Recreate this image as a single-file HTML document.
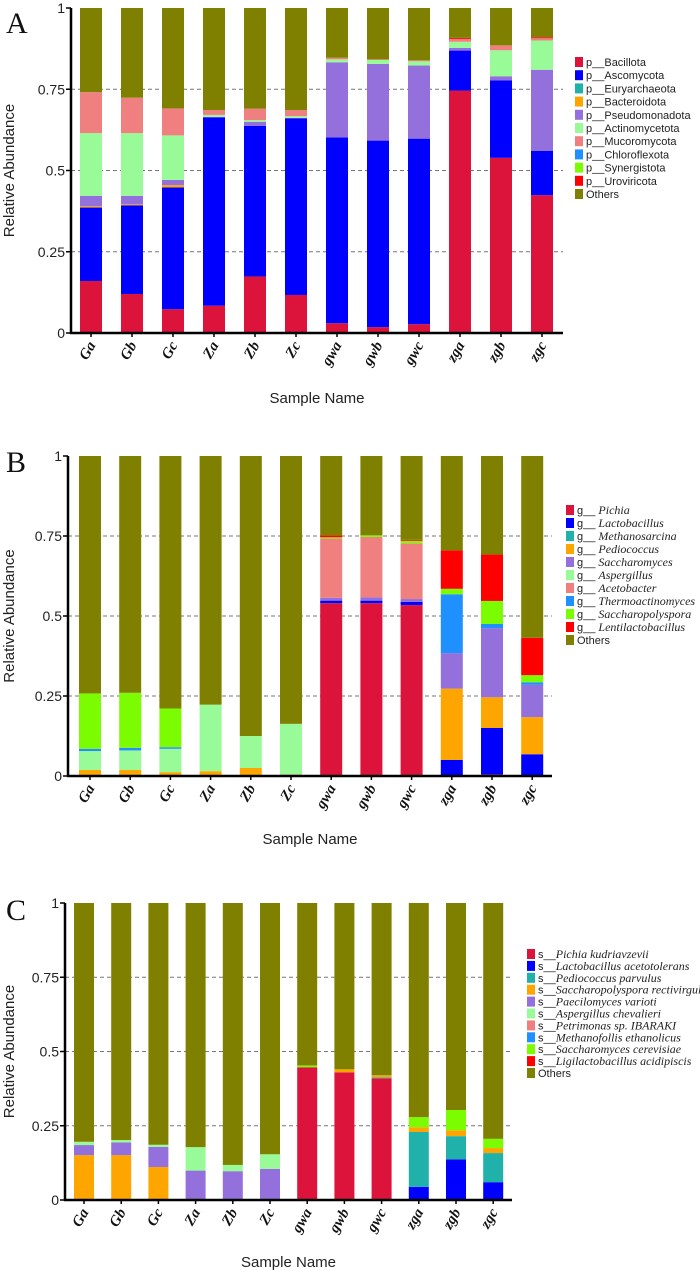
<!DOCTYPE html>
<html><head><meta charset="utf-8"><style>
body{margin:0;background:#fff;}
svg{display:block;}
.tick{font-family:"Liberation Sans",sans-serif;font-size:14px;fill:#222;}
.xl{font-family:"Liberation Serif",serif;font-size:15px;font-weight:bold;font-style:italic;fill:#111;}
.at{font-family:"Liberation Sans",sans-serif;font-size:15px;fill:#222;}
.lg{font-family:"Liberation Sans",sans-serif;font-size:11px;fill:#222;}
.lgi{font-family:"Liberation Serif",serif;font-size:12px;font-style:italic;fill:#222;}
.pl{font-family:"Liberation Serif",serif;font-size:30px;fill:#111;}
</style></head><body>
<svg id="chart" width="700" height="1270" viewBox="0 0 700 1270"></svg>
<script>
const samples = ["Ga","Gb","Gc","Za","Zb","Zc","gwa","gwb","gwc","zga","zgb","zgc"];
const yTicks = [0,0.25,0.5,0.75,1];
const yTickLabels = ["0","0.25","0.5","0.75","1"];

// Panel A (phylum) segment sizes per sample
const aNames = ["p__Bacillota","p__Ascomycota","p__Euryarchaeota","p__Bacteroidota","p__Pseudomonadota","p__Actinomycetota","p__Mucoromycota","p__Chloroflexota","p__Synergistota","p__Uroviricota"];
const aColors = ["#DC143C","#0000FF","#20B2AA","#FFA500","#9370DB","#98FB98","#F08080","#1E90FF","#7CFC00","#FF0000"];
const aBacillota =   [0.160,0.120,0.073,0.084,0.174,0.117,0.030,0.018,0.027,0.746,0.539,0.424];
const aAscomycota =  [0.226,0.273,0.375,0.579,0.463,0.543,0.572,0.574,0.571,0.123,0.238,0.136];
const aEuryarch =    [0.000,0.000,0.000,0.000,0.000,0.000,0.000,0.000,0.000,0.000,0.000,0.000];
const aBacteroid =   [0.004,0.003,0.007,0.000,0.000,0.000,0.000,0.000,0.000,0.000,0.000,0.000];
const aPseudo =      [0.032,0.026,0.016,0.002,0.013,0.002,0.231,0.236,0.225,0.008,0.013,0.250];
const aActino =      [0.193,0.193,0.137,0.006,0.005,0.005,0.009,0.012,0.013,0.019,0.080,0.090];
const aMucoro =      [0.126,0.109,0.083,0.015,0.035,0.019,0.005,0.002,0.003,0.009,0.015,0.007];
const aChloro =      [0,0,0,0,0,0,0,0,0,0,0,0];
const aSynerg =      [0,0,0,0,0,0,0,0,0,0,0,0];
const aUro =         [0,0,0,0,0,0,0,0,0,0.003,0,0.003];

// Panel B (genus)
const bNames = ["Pichia","Lactobacillus","Methanosarcina","Pediococcus","Saccharomyces","Aspergillus","Acetobacter","Thermoactinomyces","Saccharopolyspora","Lentilactobacillus"];
const bColors = ["#DC143C","#0000FF","#20B2AA","#FFA500","#9370DB","#98FB98","#F08080","#1E90FF","#7CFC00","#FF0000"];
const bPichia =   [0,0,0,0,0,0,0.540,0.540,0.534,0,0.005,0];
const bLacto =    [0,0,0,0,0,0,0.008,0.008,0.010,0.050,0.145,0.068];
const bMethano =  [0,0,0,0,0,0,0,0,0,0,0,0];
const bPedio =    [0.019,0.019,0.012,0.015,0.025,0.005,0,0,0,0.223,0.096,0.116];
const bSaccharo = [0,0,0,0,0,0,0.009,0.010,0.009,0.111,0.216,0.101];
const bAsperg =   [0.059,0.061,0.073,0.208,0.100,0.158,0,0,0,0,0,0];
const bAceto =    [0,0,0,0,0,0,0.185,0.189,0.174,0,0,0];
const bThermo =   [0.007,0.008,0.005,0,0,0,0,0,0,0.184,0.013,0.008];
const bSpora =    [0.173,0.172,0.121,0,0,0,0.004,0.005,0.008,0.017,0.072,0.022];
const bLenti =    [0,0,0,0,0,0,0.006,0,0.003,0.120,0.145,0.117];

// Panel C (species)
const cNames = ["Pichia kudriavzevii","Lactobacillus acetotolerans","Pediococcus parvulus","Saccharopolyspora rectivirgula","Paecilomyces varioti","Aspergillus chevalieri","Petrimonas sp. IBARAKI","Methanofollis ethanolicus","Saccharomyces cerevisiae","Ligilactobacillus acidipiscis"];
const cColors = ["#DC143C","#0000FF","#20B2AA","#FFA500","#9370DB","#98FB98","#F08080","#1E90FF","#7CFC00","#FF0000"];
const cPichia = [0,0,0,0,0,0,0.447,0.430,0.410,0,0,0];
const cLacto =  [0,0,0,0,0,0,0,0,0,0.044,0.137,0.060];
const cPedio =  [0,0,0,0,0,0,0,0,0.003,0.185,0.078,0.098];
const cSP =     [0.151,0.151,0.111,0,0,0,0,0.010,0.007,0.016,0.020,0.017];
const cPaec =   [0.034,0.043,0.068,0.099,0.097,0.105,0,0,0,0,0,0];
const cAsp =    [0.011,0.008,0.007,0.079,0.021,0.049,0,0,0,0,0,0];
const cPetri =  [0,0,0,0,0,0,0,0,0,0,0,0];
const cMetha =  [0,0,0,0,0,0,0,0,0,0,0,0];
const cSC =     [0,0,0,0,0,0,0.006,0,0,0.034,0.068,0.031];
const cLigi =   [0,0,0,0,0,0,0,0,0,0,0,0];

const OTHERS = "#808000";
const NS = "http://www.w3.org/2000/svg";
const svg = document.getElementById('chart');
function mk(tag, attrs, parent){const e=document.createElementNS(NS,tag);for(const k in attrs)e.setAttribute(k,attrs[k]);(parent||svg).appendChild(e);return e;}

function panel(cfg){
  const g = mk('g',{});
  
  
  const y = v => cfg.y0 - v*(cfg.y0-cfg.y1);
  const x = i => cfg.bx0 + i*cfg.step;
  // grid
  yTicks.forEach((t,i)=>{
    if(t>0 && t<1){const l=mk('line',{x1:cfg.ax,x2:cfg.axEnd,y1:y(t),y2:y(t),stroke:'#777','stroke-dasharray':'4,3','stroke-width':1},g);
      }
  });
  // bars
  samples.forEach((s,i)=>{
    let acc=0;
    cfg.series.forEach((arr,k)=>{
      const v=arr[i]; if(v<=0) return;
      const r=mk('rect',{x:x(i),y:y(acc+v),width:cfg.bw,height:y(acc)-y(acc+v),fill:cfg.colors[k]},g);
      
      
      acc+=v;
    });
    const r=mk('rect',{x:x(i),y:y(1),width:cfg.bw,height:y(acc)-y(1),fill:OTHERS},g);
    
    
    const tk=mk('line',{x1:x(i)+cfg.bw/2,x2:x(i)+cfg.bw/2,y1:cfg.y0,y2:cfg.y0+4,stroke:'#000','stroke-width':1.5},g);
    
    const cx=x(i)+cfg.bw/2+5, cy=cfg.y0+12;
    const t=mk('text',{x:cx,y:cy,class:'xl','text-anchor':'end',transform:`rotate(-60 ${cx} ${cy})`},g);
    t.textContent=s;
    
  });
  // axes
  let l=mk('line',{x1:cfg.ax,x2:cfg.ax,y1:cfg.y1,y2:cfg.y0+1,stroke:'#000','stroke-width':2.5},g);
  
  l=mk('line',{x1:cfg.ax-1,x2:cfg.axEnd,y1:cfg.y0,y2:cfg.y0,stroke:'#000','stroke-width':2.5},g);
  
  yTicks.forEach((t,i)=>{
    const tk=mk('line',{x1:cfg.ax-5,x2:cfg.ax,y1:y(t),y2:y(t),stroke:'#000','stroke-width':1.5},g);
    
    const tx=mk('text',{x:cfg.ax-6,y:y(t)+5,class:'tick','text-anchor':'end'},g);
    tx.textContent=yTickLabels[i];
    
  });
  const yc=(cfg.y0+cfg.y1)/2;
  let t=mk('text',{x:14,y:yc,class:'at','text-anchor':'middle',transform:`rotate(-90 14 ${yc})`},g);
  t.textContent='Relative Abundance';
  
  t=mk('text',{x:(cfg.ax+cfg.axEnd)/2,y:cfg.titleY,class:'at','text-anchor':'middle'},g);
  t.textContent='Sample Name';
  
  t=mk('text',{x:6,y:cfg.letterY,class:'pl'},g);
  t.textContent=cfg.id;
  
  // legend
  const names=cfg.names.concat(['Others']);
  names.forEach((n,k)=>{
    const ly=cfg.ly+k*cfg.lstep;
    const r=mk('rect',{x:cfg.lx,y:ly-5,width:8,height:10,fill:k<cfg.colors.length?cfg.colors[k]:OTHERS},g);
    
    const tx=mk('text',{x:cfg.lx+11,y:ly+4,class:'lg'},g);
    
    if(k<cfg.names.length){
      tx.textContent=cfg.prefix;
      if(cfg.italic){const sp=mk('tspan',{class:'lgi'},tx);sp.textContent=n;}
      else tx.textContent=cfg.prefix+n.replace(/^p__/,'');
    } else {tx.textContent=cfg.italic?'  Others':'Others';}
  });
}

panel({id:'A',y0:333,y1:8,ax:71,axEnd:563,bx0:80,step:41,bw:22,titleY:403,letterY:33,
  series:[aBacillota,aAscomycota,aEuryarch,aBacteroid,aPseudo,aActino,aMucoro,aChloro,aSynerg,aUro],
  colors:aColors,names:aNames,prefix:'p__',italic:false,lx:575,ly:62,lstep:13.2});
panel({id:'B',y0:776,y1:456,ax:68,axEnd:552,bx0:79,step:40.2,bw:22,titleY:844,letterY:472,
  series:[bPichia,bLacto,bMethano,bPedio,bSaccharo,bAsperg,bAceto,bThermo,bSpora,bLenti],
  colors:bColors,names:bNames,prefix:'g__ ',italic:true,lx:566,ly:510,lstep:13});
panel({id:'C',y0:1200,y1:903,ax:65,axEnd:512,bx0:74,step:37.2,bw:20,titleY:1267,letterY:920,
  series:[cPichia,cLacto,cPedio,cSP,cPaec,cAsp,cPetri,cMetha,cSC,cLigi],
  colors:cColors,names:cNames,prefix:'s__',italic:true,lx:527,ly:954,lstep:11.9});
</script>
</body></html>
